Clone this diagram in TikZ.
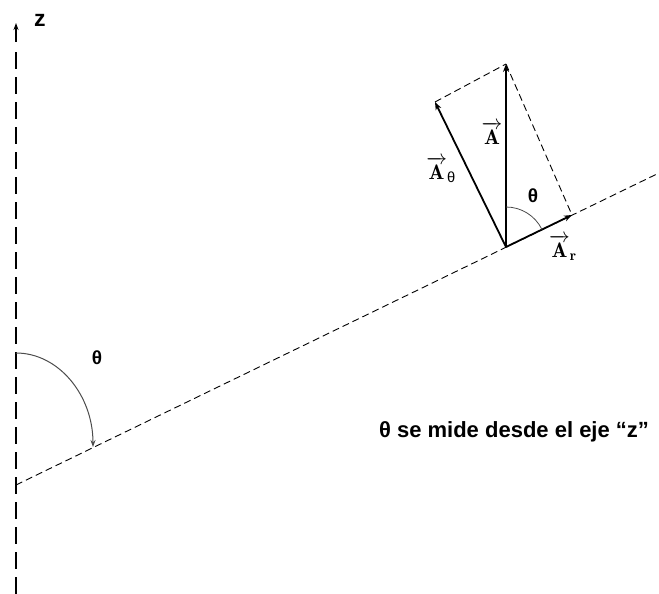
\documentclass[tikz,border=0pt]{standalone}
\usepackage{amsmath,amssymb}
\usepackage{fontspec}
\setsansfont{Liberation Sans}
\usepackage{tikz}
\usetikzlibrary{arrows.meta,calc,positioning}

\tikzset{
  axisline/.style={line width=2pt,dash pattern=on 17pt off 8pt},
  guideline/.style={line width=0.9pt,dash pattern=on 7pt off 4pt},
  vecline/.style={line width=1.8pt,-{Stealth[length=8pt,width=6pt]}},
  sanslabel/.style={font=\sffamily\bfseries\fontsize{19}{21}\selectfont},
  veclabel/.style={font=\fontsize{21}{23}\selectfont,inner sep=1pt}
}

\begin{document}
\begin{tikzpicture}[x=1pt,y=1pt,>=Stealth]
  \useasboundingbox (0,0) rectangle (659,594);
  % points
  \coordinate (zbot) at (16,0);
  \coordinate (ztop) at (16,571);
  \coordinate (Lstart) at (16,109);
  \coordinate (Lend) at (659,421);
  \coordinate (O) at (506,347);
  \coordinate (Atip) at (506,530);
  \coordinate (Artip) at (572,379);
  \coordinate (Athtip) at (435,492);
  \coordinate (arcstart) at (16,241);
  % z axis and the radial line
  \draw[axisline] (zbot) -- (16,545);
  \draw[line width=2pt,-{Stealth[length=7pt,width=5pt]}] (16,552) -- (ztop);
  \node[sanslabel,font=\sffamily\bfseries\fontsize{23}{25}\selectfont] (zlab) at (40,574) {z};
  \draw[guideline] (Lstart) -- (Lend);
  % angle from z
  \draw[gray!60!black,line width=1pt,-{Stealth[length=7pt,width=5pt]}]
    (arcstart) arc[start angle=90,end angle=0,x radius=77,y radius=94];
  \node[sanslabel] (thbig) at (97,236) {θ};
  % components
  \draw[guideline] (Athtip) -- (Atip);
  \draw[guideline] (Atip) -- (Artip);
  \draw[vecline] (O) -- (Atip);
  \draw[vecline] (O) -- (Artip);
  \draw[vecline] (O) -- (Athtip);
  \draw[gray!60!black,line width=0.8pt] ($(O)+(0,40)$) arc[start angle=90,end angle=26,radius=40];
  \node[sanslabel] (thsmall) at (533,398) {θ};
  \node[veclabel] (Alab) at (492,461) {$\overrightarrow{\mathbf{A}}$};
  \node[veclabel] (Athlab) at (441,424) {$\overrightarrow{\mathbf{A}}_{\text{\sffamily θ}}$};
  \node[veclabel] (Arlab) at (563,346) {$\overrightarrow{\mathbf{A}}_{\mathbf{r}}$};
  \node[sanslabel,font=\sffamily\bfseries\fontsize{22}{24}\selectfont] (note) at (514,162) {θ se mide desde el eje “z”};
\end{tikzpicture}
\end{document}
